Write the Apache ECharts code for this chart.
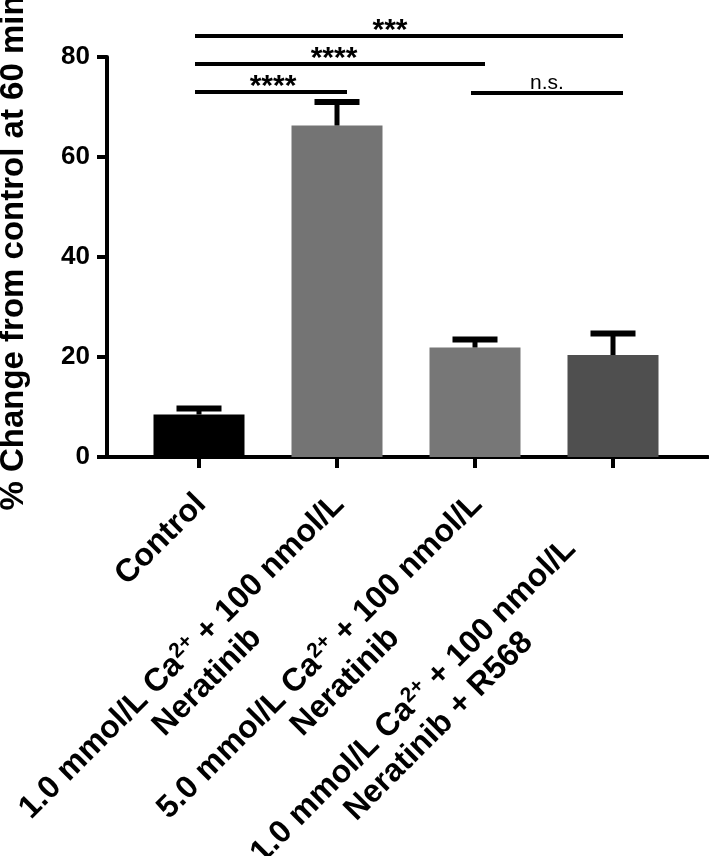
<!DOCTYPE html>
<html><head><meta charset="utf-8">
<script src="https://cdn.jsdelivr.net/npm/echarts@6/dist/echarts.min.js"></script>
<style>html,body{margin:0;padding:0;background:#fff}#c{width:709px;height:856px}</style>
</head><body><div id="c"></div>
<script>
// ---- data ----
const categories = [
  'Control',
  '1.0 mmol/L Ca²⁺ + 100 nmol/L\nNeratinib',
  '5.0 mmol/L Ca²⁺ + 100 nmol/L\nNeratinib',
  '1.0 mmol/L Ca²⁺ + 100 nmol/L\nNeratinib + R568'
];
const means = [8.5, 66.3, 21.9, 20.4];
const errorTops = [9.7, 71.0, 23.5, 24.7];
const yTicks = [0, 20, 40, 60, 80];
const compFrom = [0, 0, 0, 2];
const compTo = [1, 2, 3, 3];
const compY = [73.0, 78.6, 84.2, 72.8];
const compLabel = ['****', '****', '***', 'n.s.'];
const yTitle = '% Change from control at 60 min';

// ---- styles ----
const FONT = "'Liberation Sans', Arial, sans-serif";
const barColors = ['#000000', '#747474', '#777777', '#4f4f4f'];
const labelPadRight = [15, 15, 15, 78];
const compTextShift = [2, -6, -19, 0];

const chart = echarts.init(document.getElementById('c'), null, {renderer: 'canvas'});
const yMin = yTicks[0], yMax = yTicks[yTicks.length - 1], yInt = yTicks[1] - yTicks[0];

function fmtLabel(v) {
  return v.split('\n').map(function (line) {
    return '{c|' + line.replace('²⁺', '}{s|2+}{c|') + '}';
  }).join('\n');
}

chart.setOption({
  backgroundColor: '#fff',
  animation: false,
  grid: [
    {left: 107, right: 1, top: 57, bottom: 399, outerBoundsMode: 'none', containLabel: false},
    {left: 130, right: 27, top: 57, bottom: 399, outerBoundsMode: 'none', containLabel: false}
  ],
  xAxis: [
    {gridIndex: 0, type: 'value', min: 0, max: 1, show: true,
     axisLine: {show: true, lineStyle: {color: '#000', width: 4}},
     axisTick: {show: false}, axisLabel: {show: false}, splitLine: {show: false}},
    {gridIndex: 1, type: 'category', boundaryGap: true,
     data: categories.map(function (c, i) {
       return {value: c, textStyle: {align: 'right', verticalAlign: 'top', padding: [0, labelPadRight[i], 0, 0]}};
     }),
     axisLine: {show: false},
     axisTick: {show: true, alignWithLabel: true, length: 11, lineStyle: {color: '#000', width: 4}},
     splitLine: {show: false},
     axisLabel: {
       interval: 0, rotate: 45, margin: 19, align: 'right', verticalAlign: 'top',
       color: '#000', fontSize: 32, fontWeight: 'bold', fontFamily: FONT,
       formatter: fmtLabel,
       rich: {
         c: {fontSize: 32, fontWeight: 'bold', fontFamily: FONT, color: '#000', align: 'center', lineHeight: 36},
         s: {fontSize: 21, fontWeight: 'bold', fontFamily: FONT, color: '#000', align: 'center', verticalAlign: 'top', lineHeight: 22}
       }
     }}
  ],
  yAxis: [
    {gridIndex: 0, type: 'value', min: yMin, max: yMax, interval: yInt,
     name: yTitle, nameLocation: 'middle', nameRotate: 90, nameGap: 77,
     nameTextStyle: {fontSize: 33, fontWeight: 'bold', fontFamily: FONT, color: '#000', padding: [0, 0, 0, 8]},
     axisLine: {show: true, lineStyle: {color: '#000', width: 4}},
     axisTick: {show: true, length: 10, lineStyle: {color: '#000', width: 4}},
     axisLabel: {margin: 17, color: '#000', fontSize: 26, fontWeight: 'bold', fontFamily: FONT},
     splitLine: {show: false}},
    {gridIndex: 1, type: 'value', min: yMin, max: yMax, interval: yInt, show: false, splitLine: {show: false}}
  ],
  series: [
    {type: 'bar', xAxisIndex: 1, yAxisIndex: 1, barWidth: 91, data: means,
     itemStyle: {color: function (p) { return barColors[p.dataIndex]; }}},
    {type: 'custom', xAxisIndex: 1, yAxisIndex: 1, z: 5,
     encode: {x: 0, y: [1, 2]},
     data: categories.map(function (c, i) { return [i, errorTops[i], means[i]]; }),
     renderItem: function (params, api) {
       const i = api.value(0);
       const pTop = api.coord([i, api.value(1)]);
       const pBase = api.coord([i, api.value(2)]);
       const half = 22.5;
       return {type: 'group', children: [
         {type: 'line', shape: {x1: pTop[0], y1: pBase[1], x2: pTop[0], y2: pTop[1]}, style: {stroke: '#000', lineWidth: 5}},
         {type: 'line', shape: {x1: pTop[0] - half, y1: pTop[1], x2: pTop[0] + half, y2: pTop[1]}, style: {stroke: '#000', lineWidth: 6}}
       ]};
     }},
    {type: 'custom', xAxisIndex: 1, yAxisIndex: 1, z: 6, clip: false,
     encode: {x: [0, 1], y: 2},
     data: compFrom.map(function (a, k) { return [a, compTo[k], compY[k]]; }),
     renderItem: function (params, api) {
       const k = params.dataIndex;
       const p1 = api.coord([api.value(0), api.value(2)]);
       const p2 = api.coord([api.value(1), api.value(2)]);
       const x1 = p1[0] - 4, x2 = p2[0] + 10, y = p1[1];
       const lab = compLabel[k];
       const ns = lab === 'n.s.';
       return {type: 'group', children: [
         {type: 'line', shape: {x1: x1, y1: y, x2: x2, y2: y}, style: {stroke: '#000', lineWidth: 4}},
         {type: 'text', x: (x1 + x2) / 2 + compTextShift[k], y: ns ? y + 1 : y - 5,
          style: {text: lab, align: 'center', verticalAlign: ns ? 'bottom' : 'middle',
                  fill: '#000', font: (ns ? 'normal 21px ' : 'bold 30px ') + FONT}}
       ]};
     }}
  ]
});
</script>
</body></html>
